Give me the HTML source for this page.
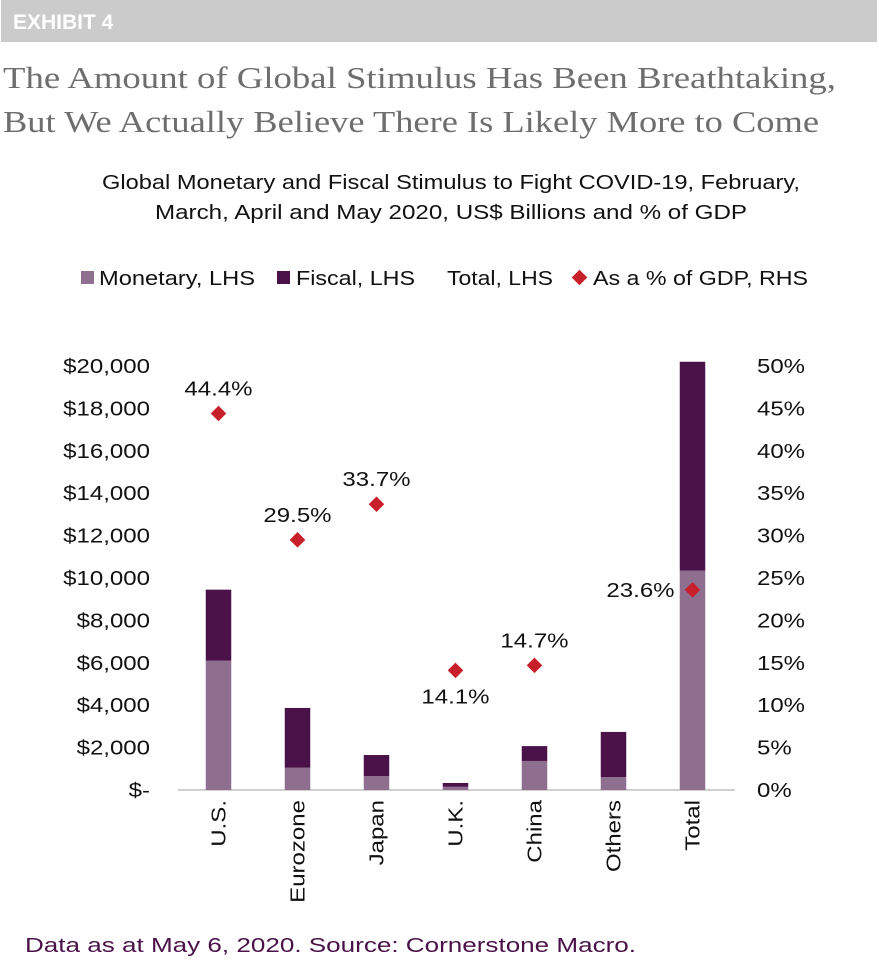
<!DOCTYPE html>
<html><head><meta charset="utf-8"><style>
body{margin:0;background:#fff;width:879px;height:972px;overflow:hidden}
svg{display:block}
</style></head><body>
<svg id="c" width="879" height="972" xmlns="http://www.w3.org/2000/svg" font-family="Liberation Sans, sans-serif">
<rect x="1" y="0" width="876" height="42" fill="#cbcbcb"/>
<text x="13" y="29" fill="#fff" font-size="21" font-weight="bold">EXHIBIT 4</text>
<text x="3" y="88" fill="#6e6e6e" font-size="31" font-family="Liberation Serif, serif" textLength="833" lengthAdjust="spacingAndGlyphs">The Amount of Global Stimulus Has Been Breathtaking,</text>
<text x="3" y="132" fill="#6e6e6e" font-size="31" font-family="Liberation Serif, serif" textLength="816" lengthAdjust="spacingAndGlyphs">But We Actually Believe There Is Likely More to Come</text>
<text x="102" y="189" font-size="20" fill="#111" textLength="698" lengthAdjust="spacingAndGlyphs">Global Monetary and Fiscal Stimulus to Fight COVID-19, February,</text>
<text x="155" y="219" font-size="20" fill="#111" textLength="592" lengthAdjust="spacingAndGlyphs">March, April and May 2020, US$ Billions and % of GDP</text>
<g font-size="20" fill="#111">
<rect x="81" y="271" width="13" height="13" fill="#8f6f90"/>
<text x="99" y="285" textLength="156" lengthAdjust="spacingAndGlyphs">Monetary, LHS</text>
<rect x="277" y="271" width="13" height="13" fill="#4a1248"/>
<text x="296" y="285" textLength="119" lengthAdjust="spacingAndGlyphs">Fiscal, LHS</text>
<text x="447" y="285" textLength="106" lengthAdjust="spacingAndGlyphs">Total, LHS</text>
<rect x="574" y="272" width="11" height="11" fill="#c8202a" transform="rotate(45 579.5 277.5)"/>
<text x="593" y="285" textLength="215" lengthAdjust="spacingAndGlyphs">As a % of GDP, RHS</text>
</g>
<line x1="178" y1="790" x2="735" y2="790" stroke="#d0d0d0" stroke-width="2"/>
<g id="plot"></g>
<text x="25" y="952" font-size="20" fill="#4a1248" textLength="611" lengthAdjust="spacingAndGlyphs">Data as at May 6, 2020. Source: Cornerstone Macro.</text>
</svg>
<script>
const categories=["U.S.","Eurozone","Japan","U.K.","China","Others","Total"];
const monetary=[6100,1050,660,150,1370,610,10350];
const fiscal=[3350,2820,990,180,700,2130,9850];
const gdpPct=[44.4,29.5,33.7,14.1,14.7,null,23.6];
const leftTicks=[0,2000,4000,6000,8000,10000,12000,14000,16000,18000,20000];
const rightTicks=[0,5,10,15,20,25,30,35,40,45,50];
const NS="http://www.w3.org/2000/svg";
const g=document.getElementById('plot');
const y0=790,yTop=366;
const yL=v=>y0-(v/20000)*(y0-yTop);
const yR=v=>y0-(v/50)*(y0-yTop);
const xC=i=>218.5+i*79;
const widen=[];
function mk(t,a,txt){const e=document.createElementNS(NS,t);for(const k in a)e.setAttribute(k,a[k]);if(txt!=null)e.textContent=txt;g.appendChild(e);if(t==='text')widen.push(e);return e;}
leftTicks.forEach(v=>{
 const e=mk('text',{x:150,y:yL(v)+7,'text-anchor':'end','font-size':20,fill:'#111'},v===0?'$-':'$'+v.toLocaleString('en-US'));
 
 
});
rightTicks.forEach(v=>{
 const e=mk('text',{x:757,y:yR(v)+7,'font-size':20,fill:'#111'},v+'%');
 
 
});
const labelOff=[[0,-18],[0,-18],[0,-18],[0,33],[0,-18],null,[-52,7]];
categories.forEach((c,i)=>{
 const x=xC(i),w=25.5;
 const m=mk('rect',{x:x-w/2,y:yL(monetary[i]),width:w,height:y0-yL(monetary[i]),fill:'#8f6f90'});
 
 
 const top=monetary[i]+fiscal[i];
 const f=mk('rect',{x:x-w/2,y:yL(top),width:w,height:yL(monetary[i])-yL(top),fill:'#4a1248'});
 
 
 const t=mk('text',{x:x+7,y:800,'text-anchor':'end','font-size':20,fill:'#111',transform:`rotate(-90 ${x+7} 800)`},c);
 
 
 if(gdpPct[i]!=null){
  const py=yR(gdpPct[i]);
  const d=mk('rect',{x:x-5.5,y:py-5.5,width:11,height:11,fill:'#c8202a',transform:`rotate(45 ${x} ${py})`});
  
  
  const o=labelOff[i]||[0,-18];
  const l=mk('text',{x:x+o[0],y:py+o[1],'text-anchor':'middle','font-size':20,fill:'#111'},gdpPct[i].toFixed(1)+'%');
  
  
 }
});
widen.forEach(e=>{
 const w=e.getComputedTextLength();
 e.setAttribute('textLength',(w*1.2).toFixed(1));
 e.setAttribute('lengthAdjust','spacingAndGlyphs');
});
</script>
</body></html>
